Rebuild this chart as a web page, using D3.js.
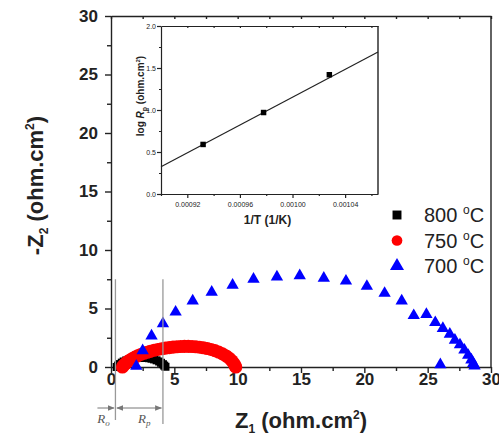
<!DOCTYPE html>
<html>
<head>
<meta charset="utf-8">
<script src="https://cdn.jsdelivr.net/npm/d3@7"></script>
<style>
  body {margin: 0; background: #fff;}
  svg {display: block;}
  .axis path, .axis line {stroke: #222; stroke-width: 1.4px;}
  .axis text {font-family: Arial, "Liberation Sans", sans-serif; fill: #222;}
</style>
</head>
<body>
<div id="chart"></div>
<script>
//-- Nyquist data, [Z1, -Z2] in ohm.cm2
var nyq_800 = [
  [0.45, 0.00], [0.55, 0.12], [0.70, 0.25], [0.85, 0.37], [1.00, 0.47], [1.20, 0.56],
  [1.40, 0.63], [1.60, 0.69], [1.80, 0.73], [2.00, 0.76], [2.20, 0.78], [2.40, 0.79],
  [2.60, 0.79], [2.80, 0.78], [3.00, 0.75], [3.20, 0.71], [3.40, 0.65], [3.60, 0.57],
  [3.80, 0.47], [3.95, 0.36], [4.10, 0.24], [4.20, 0.12], [4.30, 0.02]
];
var nyq_750 = [
  [0.90, 0.00], [1.00, 0.15], [1.15, 0.30], [1.30, 0.45], [1.50, 0.60], [1.70, 0.73],
  [1.90, 0.85], [2.10, 0.96], [2.35, 1.07], [2.60, 1.17], [2.85, 1.26], [3.10, 1.34],
  [3.40, 1.43], [3.70, 1.50], [4.00, 1.56], [4.30, 1.61], [4.60, 1.66], [4.90, 1.70],
  [5.20, 1.73], [5.50, 1.75], [5.80, 1.76], [6.10, 1.76], [6.40, 1.75], [6.70, 1.73],
  [7.00, 1.69], [7.30, 1.64], [7.60, 1.58], [7.90, 1.50], [8.20, 1.40], [8.50, 1.28],
  [8.80, 1.12], [9.10, 0.94], [9.35, 0.74], [9.55, 0.52], [9.70, 0.30], [9.80, 0.10],
  [9.85, 0.00]
];
var nyq_700 = [
  [2.00, 0.08], [2.50, 1.40], [3.20, 2.65], [4.10, 3.70], [5.10, 4.70], [6.45, 5.65],
  [7.95, 6.40], [9.60, 7.00], [11.25, 7.50], [13.10, 7.70], [14.90, 7.80], [16.80, 7.60],
  [18.55, 7.35], [20.20, 6.90], [21.60, 6.30], [22.95, 5.65], [23.90, 4.40], [24.90, 4.50],
  [25.60, 3.80], [26.20, 3.30], [26.75, 2.80], [27.15, 2.30], [27.55, 1.90], [27.90, 1.45],
  [28.20, 1.00], [28.45, 0.60], [28.60, 0.30], [28.70, 0.10], [26.00, 0.20]
];
var legend_temp = ['800', '750', '700'];
var main_ticks = [0, 5, 10, 15, 20, 25, 30];
var main_minor = [2.5, 7.5, 12.5, 17.5, 22.5, 27.5];
var r_lines = [0.35, 4.1];

//-- Arrhenius inset
var inset_inv_T = [0.000932, 0.000978, 0.001028];
var inset_log_Rp = [0.59, 0.97, 1.42];
var inset_fit = [[0.0009, 0.325], [0.001065, 1.69]];
var inset_x_ticks = [0.00092, 0.00096, 0.00100, 0.00104];
var inset_x_minor = [0.00090, 0.00094, 0.00098, 0.00102, 0.00106];
var inset_y_ticks = [0.0, 0.5, 1.0, 1.5, 2.0];
var inset_y_minor = [0.25, 0.75, 1.25, 1.75];

var FONT = 'Arial, "Liberation Sans", sans-serif';
var c_list = ['#000000', '#ff0000', '#0000ff'];

function NY_Make_Canvas(wrap) {
  var tot_width = 499;
  var tot_height = 440;
  var margin = {left: 111, right: 8, bottom: 73, top: 16};
  var width = tot_width - margin.left - margin.right;
  var height = tot_height - margin.top - margin.bottom;
  
  var root = d3.select(wrap.id)
    .append("svg")
      .attr("width", tot_width)
      .attr("height", tot_height);
  
  root.append("defs").append("marker")
      .attr("id", "arr")
      .attr("viewBox", "0 0 10 10")
      .attr("refX", 9)
      .attr("refY", 5)
      .attr("markerWidth", 7)
      .attr("markerHeight", 7)
      .attr("orient", "auto-start-reverse")
    .append("path")
      .attr("d", "M0,1 L10,5 L0,9 Z")
      .attr("fill", "#777");
  
  var svg = root.append("g")
    .attr("transform", "translate(" + margin.left + "," + margin.top + ")");
  
  wrap.root = root;
  wrap.margin = margin;
  wrap.width = width;
  wrap.height = height;
  wrap.svg = svg;
}

function NY_Axes(wrap) {
  var x = d3.scaleLinear().domain([0, 30]).range([0, wrap.width]);
  var y = d3.scaleLinear().domain([0, 30]).range([wrap.height, 0]);
  var svg = wrap.svg;
  
  //-- Minor ticks (outward)
  svg.append("g")
    .attr("class", "axis")
    .attr("transform", "translate(0," + wrap.height + ")")
    .call(d3.axisBottom(x).tickValues(main_minor).tickSize(4).tickFormat(""))
    .select(".domain").remove();
  svg.append("g")
    .attr("class", "axis")
    .call(d3.axisLeft(y).tickValues(main_minor).tickSize(4).tickFormat(""))
    .select(".domain").remove();
  
  //-- Top axis: ticks inward
  svg.append("g")
    .attr("class", "axis")
    .call(d3.axisBottom(x).tickValues(main_ticks.concat(main_minor)).tickSize(3).tickFormat("").tickSizeOuter(0));
  
  //-- Right frame
  svg.append("line")
    .attr("x1", wrap.width).attr("x2", wrap.width)
    .attr("y1", 0).attr("y2", wrap.height)
    .attr("stroke", "#222").attr("stroke-width", 1.4);
  
  //-- Bottom axis
  var gx = svg.append("g")
    .attr("class", "axis")
    .attr("transform", "translate(0," + wrap.height + ")")
    .call(d3.axisBottom(x).tickValues(main_ticks).tickSize(6).tickSizeOuter(0));
  gx.selectAll("text")
    .attr("y", 18)
    .attr("dy", null)
    .style("font-size", "17px")
    .style("font-weight", "bold");
  
  //-- Left axis
  var gy = svg.append("g")
    .attr("class", "axis")
    .call(d3.axisLeft(y).tickValues(main_ticks).tickSize(6).tickSizeOuter(0));
  gy.selectAll("text")
    .attr("x", -13)
    .style("font-size", "17px")
    .style("font-weight", "bold");
  
  //-- Axis titles
  var xt = svg.append("text")
    .attr("x", wrap.width / 2)
    .attr("y", wrap.height + 61)
    .attr("text-anchor", "middle")
    .style("font-family", FONT)
    .style("font-size", "22px")
    .style("font-weight", "bold")
    .style("fill", "#222");
  xt.append("tspan").text("Z");
  xt.append("tspan").text("1").attr("dy", 5).style("font-size", "12px");
  xt.append("tspan").text(" (ohm.cm").attr("dy", -5);
  xt.append("tspan").text("2").attr("dy", -9).style("font-size", "12px");
  xt.append("tspan").text(")").attr("dy", 9);
  
  var yt = svg.append("text")
    .attr("transform", "translate(" + (-68) + "," + (wrap.height / 2 - 6) + ") rotate(-90)")
    .attr("text-anchor", "middle")
    .style("font-family", FONT)
    .style("font-size", "22px")
    .style("font-weight", "bold")
    .style("fill", "#222");
  yt.append("tspan").text("-Z");
  yt.append("tspan").text("2").attr("dy", 5).style("font-size", "12px");
  yt.append("tspan").text(" (ohm.cm").attr("dy", -5);
  yt.append("tspan").text("2").attr("dy", -9).style("font-size", "12px");
  yt.append("tspan").text(")").attr("dy", 9);
  
  wrap.x = x;
  wrap.y = y;
}

function NY_Markers(wrap) {
  var x = wrap.x, y = wrap.y, svg = wrap.svg;
  var series = [
    {data: nyq_800, type: d3.symbolSquare, size: 64, color: c_list[0]},
    {data: nyq_750, type: d3.symbolCircle, size: 135, color: c_list[1]},
    {data: nyq_700, type: d3.symbolTriangle, size: 66, color: c_list[2]}
  ];
  
  series.forEach(function (s) {
    svg.selectAll()
      .data(s.data)
      .enter()
      .append("path")
        .attr("d", d3.symbol().type(s.type).size(s.size))
        .attr("transform", function (d) {return "translate(" + x(d[0]) + "," + y(d[1]) + ")";})
        .attr("fill", s.color);
  });
  
  //-- R_o and R_p guides
  svg.selectAll(".rline")
    .data(r_lines)
    .enter()
    .append("line")
      .attr("class", "rline")
      .attr("x1", function (d) {return x(d);})
      .attr("x2", function (d) {return x(d);})
      .attr("y1", y(7.5))
      .attr("y2", function (d, i) {return wrap.height + 53 + 4*i;})
      .attr("stroke", "#999")
      .attr("stroke-width", 1.3);
  
  var ay = wrap.height + 41;
  svg.append("line")
    .attr("x1", x(r_lines[0]) - 18).attr("x2", x(r_lines[0]) - 1.5)
    .attr("y1", ay).attr("y2", ay)
    .attr("stroke", "#777").attr("stroke-width", 1)
    .attr("marker-end", "url(#arr)");
  svg.append("line")
    .attr("x1", x(r_lines[0]) + 1.5).attr("x2", x(r_lines[1]) - 1.5)
    .attr("y1", ay).attr("y2", ay)
    .attr("stroke", "#777").attr("stroke-width", 1)
    .attr("marker-start", "url(#arr)")
    .attr("marker-end", "url(#arr)");
  
  var r_labels = [{cx: x(r_lines[0]) - 12, sub: "o"}, {cx: (x(r_lines[0]) + x(r_lines[1])) / 2 + 5, sub: "p"}];
  r_labels.forEach(function (r) {
    var t = svg.append("text")
      .attr("x", r.cx)
      .attr("y", wrap.height + 56)
      .attr("text-anchor", "middle")
      .style("font-family", '"Liberation Serif", "Times New Roman", serif')
      .style("font-style", "italic")
      .style("font-size", "13px")
      .style("fill", "#555");
    t.append("tspan").text("R");
    t.append("tspan").text(r.sub).attr("dy", 3).style("font-size", "9px");
  });
  
  //-- Legend
  var legend_pos = {x: 286, y: 199, dy: 25.5};
  var legend_sym = [
    {type: d3.symbolSquare, size: 80},
    {type: d3.symbolCircle, size: 90},
    {type: d3.symbolTriangle, size: 85}
  ];
  svg.selectAll(".legend.sym")
    .data(legend_temp)
    .enter()
    .append("path")
      .attr("class", "legend sym")
      .attr("d", function (d, i) {return d3.symbol().type(legend_sym[i].type).size(legend_sym[i].size)();})
      .attr("transform", function (d, i) {return "translate(" + legend_pos.x + "," + (legend_pos.y + i*legend_pos.dy) + ")";})
      .attr("fill", function (d, i) {return c_list[i];});
  
  legend_temp.forEach(function (d, i) {
    var t = svg.append("text")
      .attr("class", "legend label")
      .attr("x", legend_pos.x + 27)
      .attr("y", legend_pos.y + 7 + i*legend_pos.dy)
      .style("font-family", FONT)
      .style("font-size", "20px")
      .style("fill", "#222");
    t.append("tspan").text(d + " ");
    t.append("tspan").text("o").attr("dy", -8).style("font-size", "12px");
    t.append("tspan").text("C").attr("dy", 8);
  });
}

function NY_Inset(wrap) {
  var box = {left: 161, top: 26, width: 217, height: 168};
  var g = wrap.root.append("g")
    .attr("transform", "translate(" + box.left + "," + box.top + ")");
  
  var x = d3.scaleLinear().domain([0.0009, 0.001065]).range([0, box.width]);
  var y = d3.scaleLinear().domain([0, 2]).range([box.height, 0]);
  
  g.append("rect")
    .attr("width", box.width).attr("height", box.height)
    .attr("fill", "white");
  
  //-- Minor ticks
  g.append("g")
    .attr("class", "axis")
    .attr("transform", "translate(0," + box.height + ")")
    .call(d3.axisBottom(x).tickValues(inset_x_minor.filter(function (d) {return d <= 0.001065;})).tickSize(2).tickFormat(""))
    .select(".domain").remove();
  g.append("g")
    .attr("class", "axis")
    .call(d3.axisLeft(y).tickValues(inset_y_minor).tickSize(2).tickFormat(""))
    .select(".domain").remove();
  
  //-- Top ticks inward
  g.append("g")
    .attr("class", "axis")
    .call(d3.axisBottom(x).tickValues(inset_x_ticks.concat(inset_x_minor.filter(function (d) {return d > 0.0009 && d <= 0.001065;}))).tickSize(2).tickFormat("").tickSizeOuter(0));
  g.append("line")
    .attr("x1", box.width).attr("x2", box.width)
    .attr("y1", 0).attr("y2", box.height)
    .attr("stroke", "#222").attr("stroke-width", 1.4);
  
  var gx = g.append("g")
    .attr("class", "axis")
    .attr("transform", "translate(0," + box.height + ")")
    .call(d3.axisBottom(x).tickValues(inset_x_ticks).tickSize(4).tickSizeOuter(0).tickFormat(d3.format(".5f")));
  gx.selectAll("text")
    .attr("y", 13)
    .attr("dy", null)
    .style("font-size", "7px");
  
  var gy = g.append("g")
    .attr("class", "axis")
    .call(d3.axisLeft(y).tickValues(inset_y_ticks).tickSize(4).tickSizeOuter(0).tickFormat(d3.format(".1f")));
  gy.selectAll("text")
    .attr("x", -5)
    .style("font-size", "7px");
  g.selectAll(".axis path, .axis line").style("stroke-width", "1.2px");
  
  //-- Fit line
  g.append("path")
    .datum(inset_fit)
    .attr("d", d3.line().x(function (d) {return x(d[0]);}).y(function (d) {return y(d[1]);}))
    .attr("fill", "none")
    .attr("stroke", "#222")
    .attr("stroke-width", 1.2);
  
  g.selectAll(".ipt")
    .data(inset_inv_T)
    .enter()
    .append("path")
      .attr("class", "ipt")
      .attr("d", d3.symbol().type(d3.symbolSquare).size(30))
      .attr("transform", function (d, i) {return "translate(" + x(d) + "," + y(inset_log_Rp[i]) + ")";})
      .attr("fill", "#000");
  
  //-- Titles
  g.append("text")
    .attr("x", box.width / 2 - 2)
    .attr("y", box.height + 30)
    .attr("text-anchor", "middle")
    .style("font-family", FONT)
    .style("font-size", "12px")
    .style("font-weight", "bold")
    .style("fill", "#222")
    .text("1/T (1/K)");
  
  var yt = g.append("text")
    .attr("transform", "translate(-17," + (box.height / 2 - 14) + ") rotate(-90)")
    .attr("text-anchor", "middle")
    .style("font-family", FONT)
    .style("font-size", "10px")
    .style("font-weight", "bold")
    .style("fill", "#222");
  yt.append("tspan").text("log ");
  yt.append("tspan").text("R").style("font-style", "italic");
  yt.append("tspan").text("p").attr("dy", 3).style("font-size", "7px");
  yt.append("tspan").text(" (ohm.cm").attr("dy", -3);
  yt.append("tspan").text("2").attr("dy", -4).style("font-size", "6px");
  yt.append("tspan").text(")").attr("dy", 4);
}

var wrap = {id: "#chart"};
NY_Make_Canvas(wrap);
NY_Axes(wrap);
NY_Markers(wrap);
NY_Inset(wrap);
</script>
</body>
</html>
